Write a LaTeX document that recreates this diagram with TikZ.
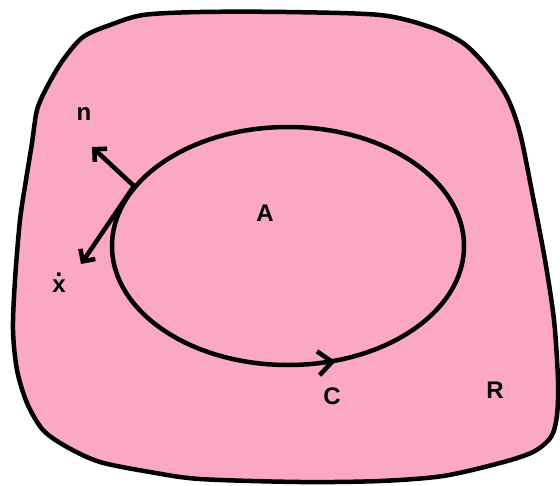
\documentclass[tikz,border=0pt]{standalone}
\usepackage{fontspec}
\setmainfont{Liberation Sans}
\usetikzlibrary{arrows.meta,decorations.markings}
\definecolor{regionpink}{RGB}{250,168,196}

\begin{document}
\begin{tikzpicture}[
  x=1pt, y=-1pt,
  font=\fontsize{24}{24}\selectfont\bfseries,
  outline/.style={draw=black, line width=4.5pt, line join=round, line cap=round},
  arr/.style={-{Straight Barb[length=9pt, width=18pt]}, line width=4.5pt, line cap=round},
  lbl/.style={inner sep=1pt}
]
\useasboundingbox (0,0) rectangle (560,485);

% region R
\draw[outline, fill=regionpink] plot[smooth cycle, tension=0.5] coordinates {
  (32,143) (37,110) (47,87) (63,60) (83,37) (110,25) (143,15) (200,12)
  (286,12) (380,15) (430,27) (463,43) (487,67) (507,97) (520,133) (533,197)
  (545,260) (554,320) (558,380) (557,415) (551,437) (533,452) (500,463)
  (443,476) (380,481) (300,482) (200,479) (150,472) (100,462) (67,447)
  (43,430) (27,403) (17,370) (13,330) (15,280) (20,220) (26,180)};

% curve C around A
\draw[outline, >={Straight Barb[length=14pt, width=24pt]}, postaction={decorate},
  decoration={markings, mark=at position 0.22 with {\arrow{<}}}]
  (288,246) ellipse [x radius=176, y radius=119];

\coordinate (foot) at (134,186);
\coordinate (ntip) at (92,147);
\coordinate (xtip) at (81,264);
\draw[arr] (foot) -- (ntip);
\draw[arr] (foot) -- (xtip);

\node[lbl] (n) at (84,114) {n};
\node[lbl] (xdot) at (59,283) {\shortstack{.\\x}};
\node[lbl] (A) at (265,213) {A};
\node[lbl] (C) at (332,396) {C};
\node[lbl] (R) at (495,390) {R};
\end{tikzpicture}
\end{document}
